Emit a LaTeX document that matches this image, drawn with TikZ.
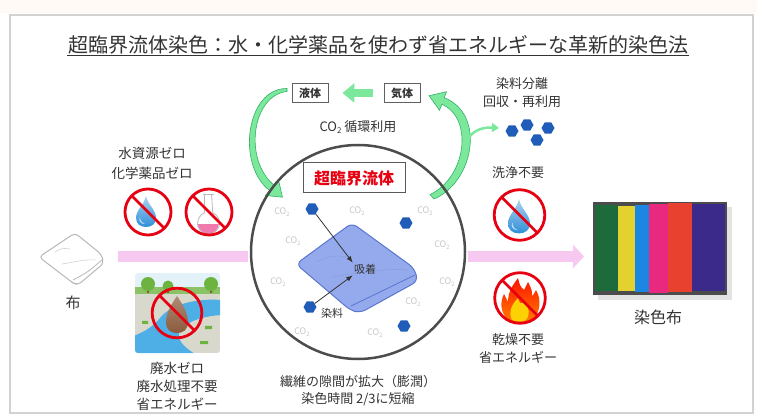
\documentclass[tikz,border=0pt]{standalone}
\usepackage{fontspec}
\setmainfont{Noto Sans CJK JP}
\usetikzlibrary{positioning,arrows.meta,shapes.geometric}

\definecolor{ink}{HTML}{333333}
\definecolor{cyc}{HTML}{7BE89C}
\definecolor{cycedge}{HTML}{35B068}
\definecolor{dyeblue}{HTML}{1F5DB8}
\definecolor{barpink}{HTML}{F7C9F1}
\definecolor{signred}{HTML}{E60012}
\definecolor{dropblue}{HTML}{2F8FD8}
\definecolor{clothblue}{HTML}{95AAEC}
\definecolor{clothedge}{HTML}{5A76D0}
\definecolor{flaskpink}{HTML}{F07AAE}
\definecolor{mud}{HTML}{8B5A3C}
\definecolor{river}{HTML}{4EAEE6}
\definecolor{treegreen}{HTML}{6DB33F}
\definecolor{ground}{HTML}{D9D8CC}
\definecolor{sky}{HTML}{E3F1F8}
\definecolor{stgreen}{HTML}{1D6B3B}
\definecolor{styellow}{HTML}{E2D12E}
\definecolor{stblue}{HTML}{1C87E3}
\definecolor{stpink}{HTML}{E8297F}
\definecolor{stred}{HTML}{E9412F}
\definecolor{stpurple}{HTML}{3B2A8A}

\newcommand\cotwo[1][6]{CO\raisebox{-0.4ex}{\fontsize{#1}{#1}\selectfont 2}}

\begin{document}
\begin{tikzpicture}[x=1pt,y=-1pt,>=Latex,
  note/.style={text=ink,font=\fontsize{13}{18}\selectfont,align=center,inner sep=0pt},
  tag/.style={draw=gray!75!black,line width=0.9pt,fill=white,text=ink,font=\fontsize{11}{12}\selectfont\bfseries,minimum width=36pt,minimum height=19pt,inner sep=0pt},
  co2/.style={text=gray!45,font=\fontsize{9}{10}\selectfont,inner sep=0pt},
  dye/.style={regular polygon,regular polygon sides=6,fill=dyeblue,minimum size=13pt,inner sep=0pt},
  recyc/.style={fill=cyc,draw=cycedge,line width=0.6pt},
  bar/.style={barpink,line width=11pt},
  nosign/.pic={\draw[signred,line width=2.8pt] (0,0) circle[radius=23] (-16.3,-16.3) -- (16.3,16.3);},
  drop/.pic={\shade[top color=dropblue!40,bottom color=dropblue] (0,-17) .. controls (2,-8) and (10,-3) .. (10,5)
      .. controls (10,11) and (5.5,14) .. (0,14) .. controls (-5.5,14) and (-10,11) .. (-10,5)
      .. controls (-10,-3) and (-2,-8) .. (0,-17) -- cycle;
    \fill[white,opacity=0.7] (-6,4) .. controls (-6,8) and (-4,10) .. (-1,11) .. controls (-5,11) and (-8,8) .. (-6,4);}
]
\useasboundingbox (0,0) rectangle (757,419);
\fill[orange!4] (0,0) rectangle (757,13);
\draw[gray!35,line width=1.5pt] (10,15) rectangle (753,413);

% title
\node[text=ink,font=\fontsize{20}{24}\selectfont,inner sep=1pt] (title) at (378,45)
  {超臨界流体染色：水・化学薬品を使わず省エネルギーな革新的染色法};
\draw[ink,line width=0.8pt] (title.south west) -- (title.south east);

% CO2 loop
\node[tag] (liq) at (310,93) {液体};
\node[tag] (gas) at (402,93) {気体};
\draw[cyc,line width=8pt,-{Triangle[width=19pt,length=12pt]},shorten <=11pt,shorten >=14pt] (gas) -- (liq);
\node[note] (cyclbl) at (358,127) {\cotwo[8] 循環利用};
\fill[recyc] (287,88.5) .. controls (246,88) and (236,165) .. (269.7,190.6) -- (265.4,195.5) -- (282.5,197.2)
  -- (278.6,180.5) -- (274.3,185.4) .. controls (243,160) and (252,95) .. (287,91.5) -- cycle;
\fill[recyc] (434,199) .. controls (474,182) and (486,114) .. (444.2,97.7) -- (446.5,91.7) -- (429,95.7)
  -- (439.5,110.3) -- (441.8,104.3) .. controls (474,118) and (466,178) .. (430,194.5) -- cycle;
\coordinate (dots) at (499,128);
\draw[cyc,line width=2.5pt,-{Triangle[width=9pt,length=7pt]}] (466,142) .. controls (472,130) and (483,127) .. (dots);
\foreach \x/\y in {512/131,527/125,548/128,537/140} \node[dye] at (\x,\y) {};
\node[note] (sep) at (522,93) {染料分離\\回収・再利用};

% vessel
\node[circle,draw=gray!60!black,line width=2.5pt,minimum size=214pt,inner sep=0pt] (vessel) at (358,252) {};
\node[draw=gray!70!black,line width=1pt,fill=white,text=signred,font=\fontsize{16}{18}\selectfont\bfseries,
  minimum width=102pt,minimum height=30pt] (scf) at (354,178) {超臨界流体};
\foreach \x/\y in {282/212,357/211,425/211,293/241,442/245,278/282,447/282,413/302,302/332,375/333}
  \node[co2] at (\x,\y) {\cotwo};
\draw[fill=clothblue,draw=clothedge,line width=1pt,rounded corners=6pt] (296,264) -- (352,223) -- (414,268)
  -- (418,281) -- (360,313) -- (350,310) -- cycle;
\draw[clothedge,line width=0.8pt] (351,306) .. controls (380,292) .. (415,275);
\draw[clothedge!70,line width=0.6pt] (317,262) .. controls (325,256) and (336,255) .. (347,257);
\draw[clothedge!70,line width=0.6pt] (332,277) .. controls (360,272) and (390,268) .. (407,270);
\node[dye] (d1) at (312,209) {};
\node[dye] (d2) at (406,223) {};
\node[dye] (d3) at (310,307) {};
\node[dye] (d4) at (404,326) {};
\node[text=ink,font=\fontsize{11}{12}\selectfont,inner sep=1pt] (ads) at (365,269) {吸着};
\node[text=ink,font=\fontsize{11}{12}\selectfont,inner sep=1pt] (dyelbl) at (332,313) {染料};
\draw[->,ink,line width=0.8pt] (d1) -- (ads.north west);
\draw[->,ink,line width=0.8pt] (d3) -- (ads.south west);
\node[note,font=\fontsize{13}{17}\selectfont] (swell) at (358,391) {繊維の隙間が拡大（膨潤）\\染色時間 2/3に短縮};

% flow bars
\coordinate (barin) at (118,256.5);
\coordinate (barout) at (584,256.5);
\draw[bar,shorten >=1.3pt] (barin) -- (vessel.west |- barin);
\draw[bar,shorten <=1.3pt,-{Triangle[width=23pt,length=11pt]}] (vessel.east |- barout) -- (barout);

% raw cloth
\draw[fill=white,draw=gray!55,line width=1pt,rounded corners=4pt] (39,257) -- (75,233) -- (101,254) -- (104,263)
  -- (78,285) -- (73,283) -- cycle;
\draw[gray!55,line width=0.8pt] (73,280) .. controls (88,272) .. (103,259);
\draw[gray!35,line width=0.6pt] (55,252) .. controls (62,248) .. (70,249);
\draw[gray!35,line width=0.6pt] (62,264) .. controls (75,262) and (86,259) .. (95,260);
\node[note,font=\fontsize{15}{16}\selectfont] (fab) at (73,303) {布};

% no water, no chemicals
\node[note,font=\fontsize{13.5}{20}\selectfont] (zero) at (152,163) {水資源ゼロ\\化学薬品ゼロ};
\pic at (146,213) {drop};
\pic at (148,212) {nosign};
\begin{scope}
  \clip (208,223) circle[radius=11];
  \fill[flaskpink] (190,224) rectangle (230,240);
\end{scope}
\draw[gray!55,line width=0.8pt] (204.5,194) -- (204.5,212.8) arc[start angle=-112,end angle=-428,radius=11]
  -- (211.5,194);
\draw[gray!55,line width=0.8pt] (202.5,194) -- (213.5,194);
\pic at (209,212) {nosign};

% no waste water
\begin{scope}
  \clip[rounded corners=3pt] (135,273) rectangle (220,353);
  \fill[sky] (135,273) rectangle (220,353);
  \fill[treegreen!80] (135,287) rectangle (220,297);
  \fill[ground] (135,294) rectangle (220,353);
  \fill[brown!70!black] (147,283) rectangle (149,293) (167,284) rectangle (169,293) (210,283) rectangle (212,293);
  \fill[treegreen] (148,284) circle[radius=7] (168,286) circle[radius=5.5] (211,284) circle[radius=7];
  \fill[river] (221,300) .. controls (195,298) and (170,305) .. (160,318) .. controls (150,330) and (140,333) .. (134,336)
    -- (134,354) -- (195,354) .. controls (182,346) and (176,338) .. (180,331) .. controls (186,321) and (205,316) .. (221,315) -- cycle;
  \fill[treegreen] (142,321) rectangle (148,324) (205,326) rectangle (212,329) (200,341) rectangle (208,344);
  \shade[top color=mud!70,bottom color=mud] (177,296) .. controls (181,302) and (188,312) .. (188,322)
    .. controls (188,330) and (183,333) .. (177,333) .. controls (171,333) and (166,330) .. (166,322)
    .. controls (166,312) and (173,302) .. (177,296) -- cycle;
\end{scope}
\pic[scale=1.08] at (177,313) {nosign};
\node[note,font=\fontsize{13.5}{18}\selectfont] (waste) at (177,386) {廃水ゼロ\\廃水処理不要\\省エネルギー};

% no washing, no drying
\node[note] (nowash) at (518,173) {洗浄不要};
\pic[scale=1.1] at (519,218) {drop};
\pic[scale=1.1] at (519.5,215) {nosign};
\shade[top color=red!85!orange,bottom color=orange] (508,320) .. controls (500,312) and (500,302) .. (504,294)
  .. controls (506,298) .. (508,302) .. controls (508,290) and (514,284) .. (518,278) .. controls (520,286) .. (524,290)
  .. controls (526,286) .. (528,282) .. controls (532,290) .. (532,296) .. controls (534,294) .. (536,290)
  .. controls (542,300) and (540,314) .. (532,320) .. controls (526,323) and (514,323) .. (508,320) -- cycle;
\fill[yellow!70!orange] (512,320) .. controls (508,312) and (512,304) .. (518,298) .. controls (520,304) .. (524,302)
  .. controls (530,308) and (530,316) .. (526,320) .. controls (522,322) and (516,322) .. (512,320) -- cycle;
\pic[scale=1.1] at (520,298) {nosign};
\node[note] (nodry) at (518,349) {乾燥不要\\省エネルギー};

% dyed cloth
\fill[gray!22] (598,207) rectangle (732,300);
\fill[gray!60!black] (593,202) rectangle (727,295);
\fill[stgreen] (595,205) rectangle (618,291);
\fill[styellow] (618,206) rectangle (635,291);
\fill[stblue] (635,205) rectangle (649,292);
\fill[stpink] (649,204) rectangle (668,293);
\fill[stred] (668,203) rectangle (692,292);
\fill[stpurple] (692,204) rectangle (725,291);
\node[note,font=\fontsize{16}{18}\selectfont] (dyed) at (658,317) {染色布};
\end{tikzpicture}
\end{document}
